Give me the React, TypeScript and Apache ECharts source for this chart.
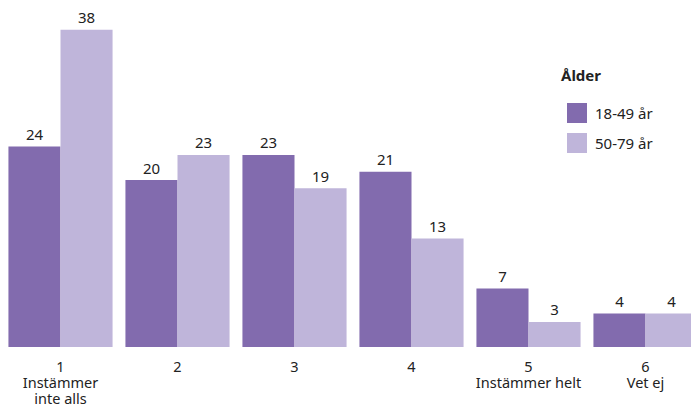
import React, { useEffect, useRef } from "react";
import * as echarts from "echarts";

const categories = ["1\nInstämmer\ninte alls", "2", "3", "4", "5\nInstämmer helt", "6\nVet ej"];
const seriesNames = ["18-49 år", "50-79 år"];
const young = [24, 20, 23, 21, 7, 4];
const old = [38, 23, 19, 13, 3, 4];
const legendTitle = "Ålder";

const FONT = "'Noto Sans', sans-serif";

export default function App() {
  const ref = useRef<HTMLDivElement>(null);
  useEffect(() => {
    document.body.style.margin = "0";
    document.body.style.overflow = "hidden";
    const chart = echarts.init(ref.current!, null, { renderer: "svg" });
    chart.setOption({
      animation: false,
      textStyle: { fontFamily: FONT },
      title: {
        text: legendTitle,
        left: 556,
        top: 62,
        textStyle: { fontSize: 15, fontWeight: "bold", color: "#222", fontFamily: FONT },
      },
      legend: {
        orient: "vertical",
        left: 562,
        top: 98,
        itemWidth: 20,
        itemHeight: 20,
        itemGap: 10,
        icon: "rect",
        textStyle: { fontSize: 15, color: "#222", fontFamily: FONT, padding: [0, 0, 0, 3] },
        data: seriesNames,
      },
      grid: { left: 2, right: 0, top: 13, bottom: 60, containLabel: false },
      xAxis: {
        type: "category",
        data: categories,
        axisLine: { show: false },
        axisTick: { show: false },
        axisLabel: { color: "#222", fontSize: 14.5, lineHeight: 16, margin: 11, fontFamily: FONT, interval: 0 },
      },
      yAxis: { type: "value", min: 0, max: 40, show: false },
      series: [
        {
          name: seriesNames[0],
          type: "bar",
          data: young,
          barGap: "0%",
          barCategoryGap: "11%",
          itemStyle: { color: "#826BAE" },
          label: { show: true, position: "top", color: "#222", fontSize: 15, distance: 5, fontFamily: FONT },
        },
        {
          name: seriesNames[1],
          type: "bar",
          data: old,
          barGap: "0%",
          barCategoryGap: "11%",
          itemStyle: { color: "#BFB5DA" },
          label: { show: true, position: "top", color: "#222", fontSize: 15, distance: 5, fontFamily: FONT },
        },
      ],
    });
    return () => chart.dispose();
  }, []);
  return (
    <div style={{ width: 691, height: 407, overflow: "hidden", position: "relative" }}>
      <div ref={ref} style={{ width: 704, height: 407 }} />
    </div>
  );
}
